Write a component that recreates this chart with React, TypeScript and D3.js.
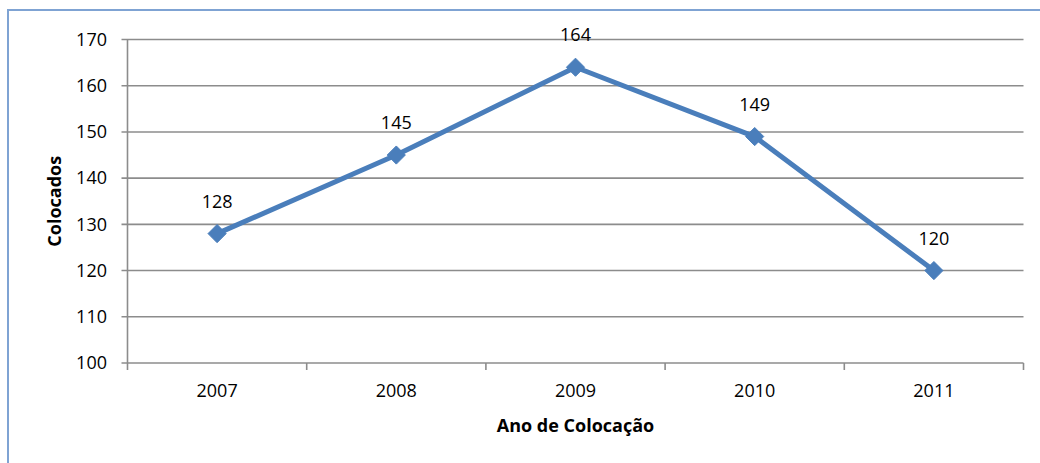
import { useEffect, useRef } from "react";
import * as d3 from "d3";

const years = ["2007", "2008", "2009", "2010", "2011"];
const colocados = [128, 145, 164, 149, 120];
const yTicks = [100, 110, 120, 130, 140, 150, 160, 170];

const W = 1040;
const H = 463;
const FONT = "'Open Sans', 'Liberation Sans', sans-serif";

export default function App() {
  const ref = useRef<SVGSVGElement>(null);

  useEffect(() => {
    document.body.style.margin = "0";
    const svg = d3.select(ref.current);
    svg.selectAll("*").remove();

    const left = 127.5, right = 1023.5, top = 39.5, bottom = 363;

    const x = d3.scaleBand().domain(years).range([left, right]);
    const y = d3.scaleLinear().domain([100, 170]).range([bottom, top]);

    // outer frame
    svg.append("rect")
      .attr("x", 8).attr("y", 10)
      .attr("width", W + 20).attr("height", H + 20)
      .attr("fill", "white")
      .attr("stroke", "#7fa3d3")
      .attr("stroke-width", 2);

    // gridlines
    svg.append("g")
      .selectAll("line")
      .data(yTicks)
      .join("line")
      .attr("x1", left - 6).attr("x2", right)
      .attr("y1", d => y(d)).attr("y2", d => y(d))
      .attr("stroke", "#8c8c8c")
      .attr("stroke-width", 1.6);

    // y axis line
    svg.append("line")
      .attr("x1", left).attr("x2", left)
      .attr("y1", top).attr("y2", bottom + 7)
      .attr("stroke", "#8c8c8c").attr("stroke-width", 1.6);

    // x ticks at band edges
    const edges = years.map(d => x(d)!).concat([right]);
    svg.append("g")
      .selectAll("line")
      .data(edges.slice(1))
      .join("line")
      .attr("x1", d => d).attr("x2", d => d)
      .attr("y1", bottom).attr("y2", bottom + 7)
      .attr("stroke", "#8c8c8c").attr("stroke-width", 1.6);

    // y tick labels
    svg.append("g")
      .selectAll("text")
      .data(yTicks)
      .join("text")
      .attr("x", 107).attr("y", d => y(d))
      .attr("dy", "0.35em")
      .attr("text-anchor", "end")
      .style("font-family", FONT).style("font-size", "18px")
      .attr("fill", "#000")
      .text(d => d);

    // x tick labels
    svg.append("g")
      .selectAll("text")
      .data(years)
      .join("text")
      .attr("x", d => x(d)! + x.bandwidth() / 2).attr("y", 397)
      .attr("text-anchor", "middle")
      .style("font-family", FONT).style("font-size", "18px")
      .attr("fill", "#000")
      .text(d => d);

    // axis titles
    svg.append("text")
      .attr("x", (left + right) / 2).attr("y", 432)
      .attr("text-anchor", "middle")
      .style("font-family", FONT).style("font-size", "18px").style("font-weight", "bold")
      .text("Ano de Colocação");

    svg.append("text")
      .attr("transform", `translate(61,${(top + bottom) / 2}) rotate(-90)`)
      .attr("text-anchor", "middle")
      .style("font-family", FONT).style("font-size", "18px").style("font-weight", "bold")
      .text("Colocados");

    const pts: [number, number][] = years.map((d, i) => [x(d)! + x.bandwidth() / 2, y(colocados[i])]);

    svg.append("path")
      .attr("d", d3.line()(pts)!)
      .attr("fill", "none")
      .attr("stroke", "#4a7ebb")
      .attr("stroke-width", 5)
      .attr("stroke-linejoin", "round");

    const diamond = d3.symbol().type(d3.symbolDiamond2).size(210)();
    svg.append("g")
      .selectAll("path")
      .data(pts)
      .join("path")
      .attr("transform", d => `translate(${d[0]},${d[1]})`)
      .attr("d", diamond!)
      .attr("fill", "#4a7ebb")
      .attr("stroke", "#4a7ebb")
      .attr("stroke-width", 1);

    // data labels
    svg.append("g")
      .selectAll("text")
      .data(pts)
      .join("text")
      .attr("x", d => d[0]).attr("y", d => d[1] - 26)
      .attr("text-anchor", "middle")
      .style("font-family", FONT).style("font-size", "18px")
      .attr("fill", "#000")
      .text((d, i) => colocados[i]);
  }, []);

  return <svg ref={ref} width={W} height={H} style={{ display: "block" }} />;
}
